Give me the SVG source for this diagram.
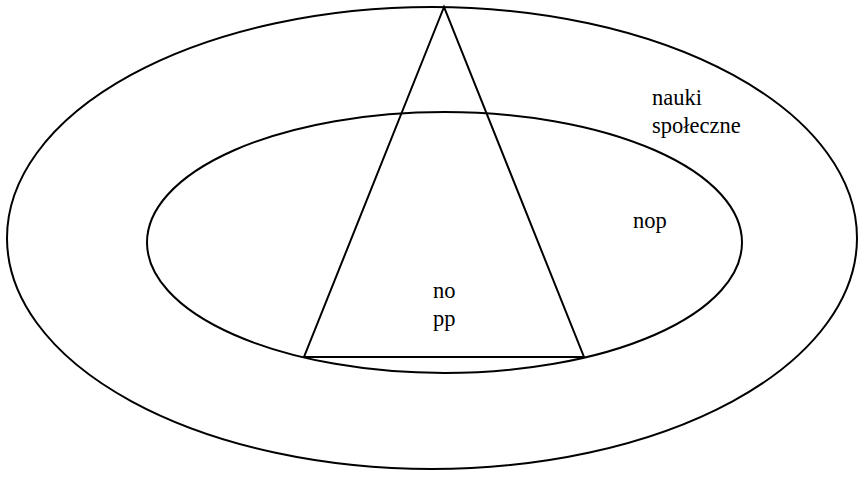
<svg xmlns="http://www.w3.org/2000/svg" width="860" height="481" viewBox="0 0 860 481">
<style>
.s{fill:none;stroke:#000;stroke-width:2}
text{font-family:'Times New Roman','Liberation Serif','DejaVu Serif',serif;font-size:22.5px;fill:#000}
</style>
<rect width="860" height="481" fill="#fff"/>
<g id="outer"><ellipse class="s" cx="432" cy="238" rx="425" ry="231"/><text x="652" y="105">nauki</text><text x="652" y="133">społeczne</text></g>
<g id="inner"><ellipse class="s" cx="444.5" cy="242.5" rx="297.5" ry="130.5"/><text x="633" y="228">nop</text></g>
<g id="triangle"><polygon class="s" points="444,7 304,357 584,357"/><text x="433" y="298">no</text><text x="433" y="326">pp</text></g>
<g id="connectors"/>
</svg>
